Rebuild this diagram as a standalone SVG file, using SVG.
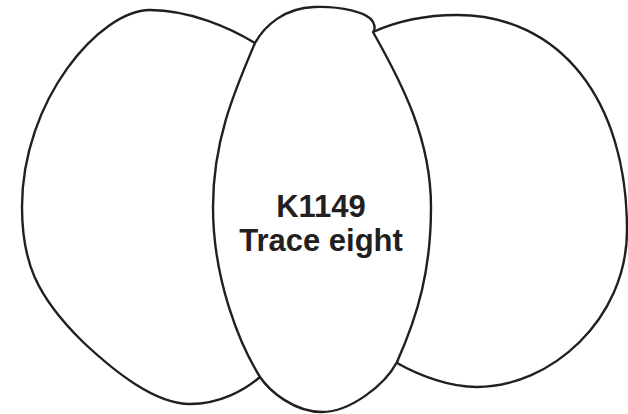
<svg xmlns="http://www.w3.org/2000/svg" width="628" height="414" viewBox="0 0 628 414">
<style>
.lobe{fill:#fff;stroke:#231f20;stroke-width:2.4;stroke-linejoin:round}
.lbl{font-family:"Liberation Sans",Arial,sans-serif;font-weight:bold;font-size:31px;fill:#231f20;text-anchor:middle}
</style>
<rect width="628" height="414" fill="#fff"/>
<g id="left-lobe">
<path class="lobe" d="M255,43 C230,28 190,10 150,10 C100,10 22,100 22,207 C22,260 35,295 83,342 C115,372 155,404 190,404 C220,404 245,390 260,377 L240,200 Z"/>
</g>
<g id="right-lobe">
<path class="lobe" d="M373,32 C395,22 425,15 457,15 C560,15 627,100 627,230 C627,320 550,387 477,387 C450,387 420,376 397,363 L420,200 Z"/>
</g>
<g id="center-lobe">
<path class="lobe" d="M255,43 C265,25 285,8 314,7 C340,6 368,12 373,22 C375,26 375,30 373,32 C403,85 431,140 431,207 C431,270 418,315 397,362 C385,385 350,412 322,412 C295,412 270,392 260,377 C240,345 213,280 213,207 C213,140 235,90 255,43 Z"/>
<text class="lbl" x="321" y="217">K1149</text>
<text class="lbl" x="321" y="251">Trace eight</text>
</g>
</svg>
